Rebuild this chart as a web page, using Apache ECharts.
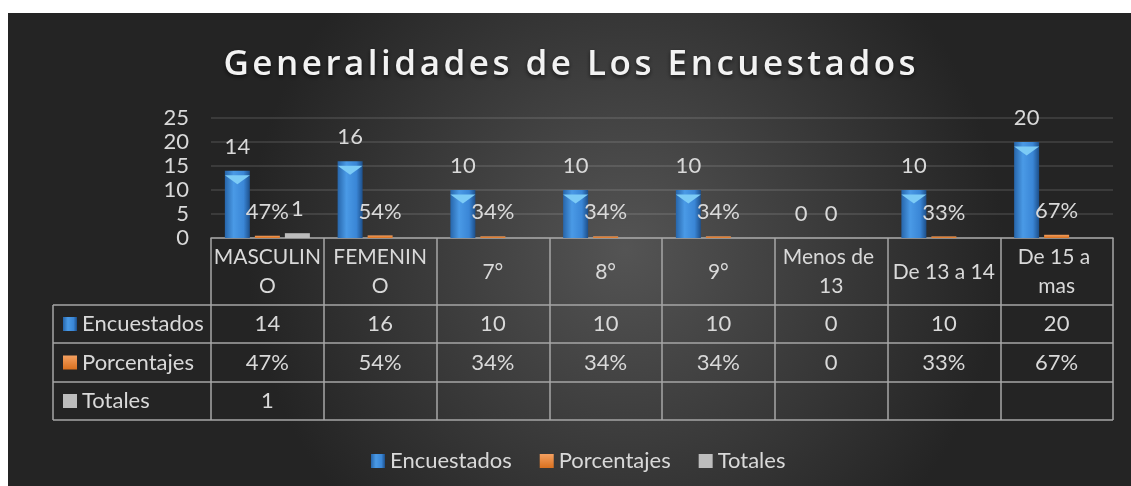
<!DOCTYPE html>
<html>
<head>
<meta charset="utf-8">
<script src="https://cdn.jsdelivr.net/npm/echarts@6/dist/echarts.min.js"></script>
<style>
  html, body { margin: 0; background: #ffffff; }
  #chart-container { position: absolute; left: 8px; top: 13px; width: 1123px; height: 473px; }
</style>
</head>
<body>
<div id="chart-container"></div>
<script>
var titleText = "Generalidades de Los Encuestados";
var categories = ["MASCULINO", "FEMENINO", "7°", "8°", "9°", "Menos de 13", "De 13 a 14", "De 15 a mas"];
var encuestados = [14, 16, 10, 10, 10, 0, 10, 20];
var porcentajes = [0.47, 0.54, 0.34, 0.34, 0.34, 0, 0.33, 0.67];
var totales = [1, null, null, null, null, null, null, null];
var seriesNames = ["Encuestados", "Porcentajes", "Totales"];
var yMin = 0, yMax = 25, yStep = 5;

var FONT = "Lato";
var FS = 22;
var TXT = "#d9d9d9";
var LINE = "#a6a6a6";
var BAR_W = 25, BAR_GAP = 5;

function fmtPct(v) {
  return v === 0 ? "0" : Math.round(v * 100) + "%";
}

// spread the title letters a bit, like the original
function spaced(s) {
  return s.split("").join("\u200A");
}

var blueFill = new echarts.graphic.LinearGradient(0, 0, 1, 0, [
  { offset: 0, color: "#2766ab" },
  { offset: 0.35, color: "#4a9ae6" },
  { offset: 0.75, color: "#3a86d6" },
  { offset: 1, color: "#1d4f8a" },
]);
var orangeFill = new echarts.graphic.LinearGradient(0, 0, 0, 1, [
  { offset: 0, color: "#f5a060" },
  { offset: 1, color: "#d8701f" },
]);
var grayFill = "#bdbdbd";

var dom = document.getElementById("chart-container");
var myChart = echarts.init(dom, null, { renderer: "canvas" });

var labelStyle = {
  show: true,
  position: "top",
  distance: 13,
  color: TXT,
  fontFamily: FONT,
  fontSize: FS,
  lineHeight: 22,
};

var option = {
  backgroundColor: new echarts.graphic.RadialGradient(0.55, 0.5, 0.8, [
    { offset: 0, color: "#545454" },
    { offset: 1, color: "#242424" },
  ]),
  animation: false,
  title: {
    text: spaced(titleText),
    left: "center",
    top: 30,
    textStyle: {
      color: "#f2f2f2",
      fontFamily: "Open Sans",
      fontWeight: 600,
      fontSize: 35,
      textShadowColor: "rgba(0,0,0,0.6)",
      textShadowBlur: 4,
      textShadowOffsetY: 2,
    },
  },
  legend: {
    data: seriesNames,
    left: 358,
    top: 432,
    itemWidth: 14,
    itemHeight: 14,
    itemGap: 28,
    icon: "rect",
    textStyle: { color: TXT, fontFamily: FONT, fontSize: FS },
  },
  grid: { left: 203, right: 18, top: 105, bottom: 248 },
  xAxis: {
    type: "category",
    data: categories,
    axisLine: { lineStyle: { color: LINE, width: 1.5 } },
    axisTick: { show: true, length: 182, lineStyle: { color: LINE, width: 1.5 } },
    axisLabel: {
      interval: 0,
      color: TXT,
      fontFamily: FONT,
      fontSize: 21,
      lineHeight: 29,
      margin: 34,
      verticalAlign: "middle",
      width: 109,
      overflow: "break",
    },
  },
  yAxis: {
    type: "value",
    min: yMin,
    max: yMax,
    interval: yStep,
    axisLine: { show: false },
    axisTick: { show: false },
    splitLine: { lineStyle: { color: "rgba(255,255,255,0.14)", width: 1.5 } },
    axisLabel: { color: TXT, fontFamily: FONT, fontSize: FS, margin: 22 },
  },
  series: [
    {
      name: seriesNames[0],
      type: "bar",
      data: encuestados,
      barWidth: BAR_W,
      barGap: (BAR_GAP / BAR_W) * 100 + "%",
      itemStyle: { color: blueFill },
      label: labelStyle,
    },
    {
      name: seriesNames[1],
      type: "bar",
      data: porcentajes,
      barWidth: BAR_W,
      itemStyle: { color: orangeFill },
      label: Object.assign({}, labelStyle, {
        formatter: function (p) { return fmtPct(p.value); },
      }),
    },
    {
      name: seriesNames[2],
      type: "bar",
      data: totales,
      barWidth: BAR_W,
      itemStyle: { color: grayFill },
      label: labelStyle,
    },
    {
      // bevel on top of the blue bars
      type: "pictorialBar",
      data: encuestados.map(function (v) { return v > 0 ? v : null; }),
      symbol: "path://M0,0 L10,0 L5,4 Z",
      symbolSize: [BAR_W, 9],
      symbolPosition: "end",
      symbolOffset: [-(BAR_W + BAR_GAP), "50%"],
      itemStyle: { color: "#7ccbf6" },
      z: 3,
      silent: true,
    },
  ],
};

myChart.setOption(option);

// data table under the plot, laid out from the category axis
(function buildTable() {
  var c0 = myChart.convertToPixel({ xAxisIndex: 0 }, categories[0]);
  var c1 = myChart.convertToPixel({ xAxisIndex: 0 }, categories[1]);
  var bw = c1 - c0;
  var x0 = c0 - bw / 2;
  var xEnd = x0 + bw * categories.length;
  var yBase = myChart.convertToPixel({ yAxisIndex: 0 }, 0);
  var tableLeft = 45;
  var rowTops = [yBase + 67, yBase + 105, yBase + 144, yBase + 182];

  var rows = [
    { name: seriesNames[0], fill: blueFill, values: encuestados.map(String) },
    { name: seriesNames[1], fill: orangeFill, values: porcentajes.map(fmtPct) },
    { name: seriesNames[2], fill: grayFill, values: totales.map(function (v) { return v == null ? "" : String(v); }) },
  ];

  var els = [];
  rowTops.forEach(function (y) {
    els.push({
      type: "line",
      shape: { x1: tableLeft, y1: y, x2: xEnd, y2: y },
      style: { stroke: LINE, lineWidth: 1.5 },
    });
  });
  els.push({
    type: "line",
    shape: { x1: tableLeft, y1: rowTops[0], x2: tableLeft, y2: rowTops[3] },
    style: { stroke: LINE, lineWidth: 1.5 },
  });

  rows.forEach(function (row, r) {
    var yc = (rowTops[r] + rowTops[r + 1]) / 2;
    els.push({
      type: "rect",
      shape: { x: 55, y: yc - 7, width: 14, height: 14 },
      style: { fill: row.fill },
    });
    els.push({
      type: "text",
      x: 74,
      y: yc,
      style: { text: row.name, fill: TXT, font: FS + "px " + FONT, verticalAlign: "middle" },
    });
    row.values.forEach(function (t, i) {
      if (!t) return;
      els.push({
        type: "text",
        x: x0 + bw * (i + 0.5),
        y: yc,
        style: { text: t, fill: TXT, font: FS + "px " + FONT, align: "center", verticalAlign: "middle" },
      });
    });
  });

  myChart.setOption({ graphic: els });
})();

window.addEventListener("resize", myChart.resize);
</script>
</body>
</html>
